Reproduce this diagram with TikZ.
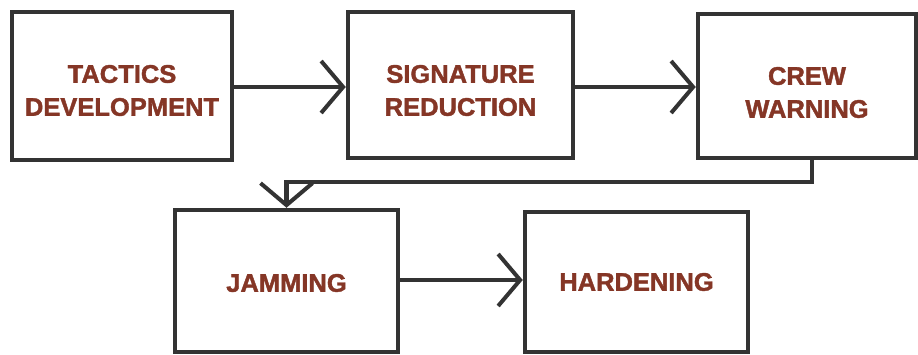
\documentclass[tikz,border=0pt]{standalone}
\usepackage{fontspec}
\setmainfont{Liberation Sans}[BoldFeatures={FakeBold=1.6}]
\usetikzlibrary{arrows.meta}
\definecolor{boxline}{HTML}{333333}
\definecolor{labeltext}{HTML}{853626}
\tikzset{
  stagebox/.style={draw=boxline, line width=4.5pt, rectangle, fill=white, inner sep=0pt},
  stagetext/.style={align=center, text=labeltext, inner sep=0pt,
    font=\fontsize{25.5}{33}\selectfont\bfseries},
  flowarrow/.style={draw=boxline, line width=4.5pt,
    -{Straight Barb[length=22pt, width=52pt, line width=4pt]}}
}
\begin{document}
\begin{tikzpicture}[x=1pt, y=-1pt]
\useasboundingbox[fill=white] (0,0) rectangle (918,354);
\node[stagebox, minimum width=220pt, minimum height=148pt] (a) at (122,86) {};
\node[stagebox, minimum width=225pt, minimum height=146pt] (b) at (460.5,85) {};
\node[stagebox, minimum width=218pt, minimum height=144pt] (c) at (807,86) {};
\node[stagebox, minimum width=223pt, minimum height=142pt] (d) at (286.5,281) {};
\node[stagebox, minimum width=223pt, minimum height=140pt] (e) at (636.5,282) {};
\node[stagetext] (ta) at ([yshift=-4.5pt]a.center) {TACTICS\\DEVELOPMENT};
\node[stagetext] (tb) at ([yshift=-5.5pt]b.center) {SIGNATURE\\REDUCTION};
\node[stagetext] (tc) at ([yshift=-6.5pt]c.center) {CREW\\WARNING};
\node[stagetext] (td) at ([yshift=-2pt]d.center) {JAMMING};
\node[stagetext] (te) at (e.center) {HARDENING};
\coordinate (turn) at (286.5,182);
\draw[flowarrow] (a.east |- 0,87) -- (b.west |- 0,87);
\draw[flowarrow] (b.east |- 0,87) -- (c.west |- 0,87);
\draw[flowarrow] ([xshift=5pt]c.south) |- (turn) -- (d.north);
\draw[flowarrow] (d.east |- 0,280) -- (e.west |- 0,280);
\end{tikzpicture}
\end{document}
